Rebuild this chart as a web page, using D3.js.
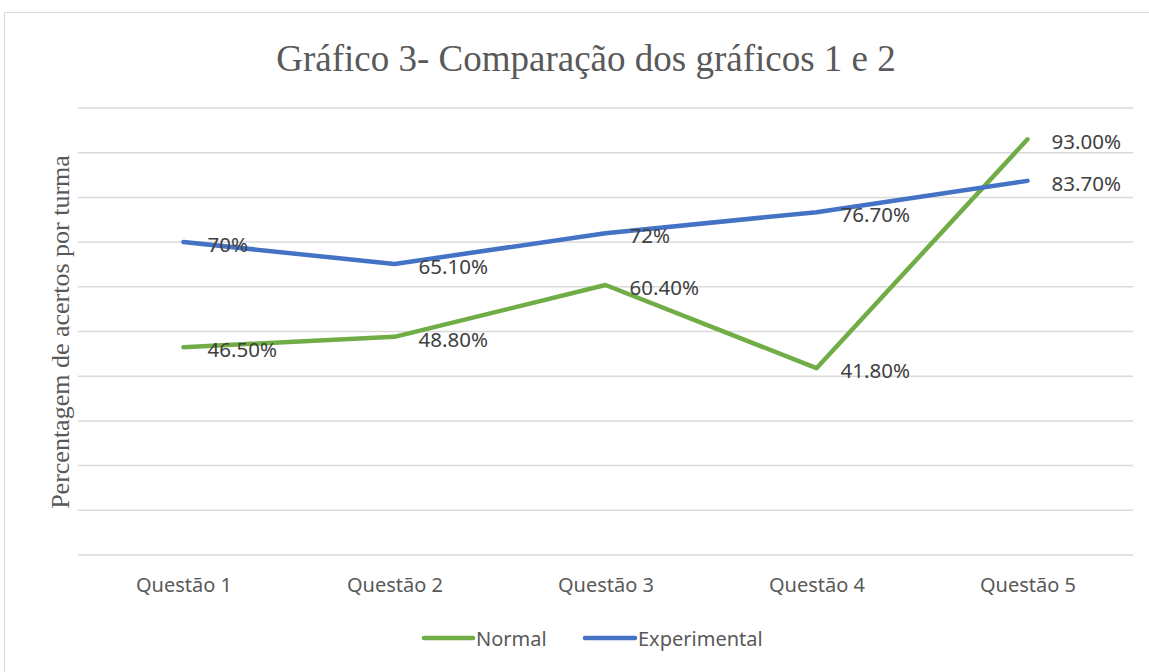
<!DOCTYPE html>
<html><head><meta charset="utf-8">
<script src="https://cdn.jsdelivr.net/npm/d3@7"></script>
<style>html,body{margin:0;padding:0;background:#fff;}</style>
</head><body>
<svg id="chart" width="1149" height="672"></svg>
<script>
const categories = ["Questão 1","Questão 2","Questão 3","Questão 4","Questão 5"];
const normal = [46.5, 48.8, 60.4, 41.8, 93.0];
const experimental = [70, 65.1, 72, 76.7, 83.7];
const normalLabels = ["46.50%","48.80%","60.40%","41.80%","93.00%"];
const experimentalLabels = ["70%","65.10%","72%","76.70%","83.70%"];
const yTicks = [0,10,20,30,40,50,60,70,80,90,100];
const seriesNames = ["Normal","Experimental"];
const colors = ["#70AD47","#4472C4"];

const svg = d3.select("#chart");
svg.append("rect").attr("x",4.5).attr("y",12.5).attr("width",1160).attr("height",680)
  .attr("fill","#fff").attr("stroke","#d9d9d9").attr("stroke-width",1);

const x = d3.scalePoint().domain(categories).range([78,1133]).padding(0.5);
const y = d3.scaleLinear().domain([0,100]).range([555,108]);

// gridlines
svg.append("g").selectAll("line").data(yTicks).join("line")
  .attr("x1",78).attr("x2",1133)
  .attr("y1",d=>y(d)).attr("y2",d=>y(d))
  .attr("stroke","#d9d9d9").attr("stroke-width",1.5);

// x axis labels
const xAxis = d3.axisBottom(x).tickSize(0).tickPadding(0);
const gx = svg.append("g").attr("transform","translate(0,578)").call(xAxis);
gx.select(".domain").remove();
gx.selectAll("text").attr("font-family","'Noto Sans', sans-serif").attr("font-size","20px")
  .attr("fill","#595959").attr("dy","0.71em").attr("y",0);

// title
svg.append("text").attr("x",586).attr("y",71).attr("text-anchor","middle")
  .attr("font-family","'Liberation Serif', 'Times New Roman', serif").attr("font-size","37px")
  .attr("fill","#595959").text("Gráfico 3- Comparação dos gráficos 1 e 2");

// y title
svg.append("text").attr("transform","translate(69,332) rotate(-90)").attr("text-anchor","middle")
  .attr("font-family","'Liberation Serif', 'Times New Roman', serif").attr("font-size","26px")
  .attr("fill","#595959").text("Percentagem de acertos por turma");

const line = d3.line().x((d,i)=>x(categories[i])).y(d=>y(d));
const series = [normal, experimental];
const labels = [normalLabels, experimentalLabels];
series.forEach((s,k)=>{
  svg.append("path").datum(s).attr("d",line).attr("fill","none")
    .attr("stroke",colors[k]).attr("stroke-width",4.5)
    .attr("stroke-linecap","round").attr("stroke-linejoin","round");
});
series.forEach((s,k)=>{
  svg.append("g").selectAll("text").data(s).join("text")
    .attr("x",(d,i)=>x(categories[i])+24).attr("y",d=>y(d)+2)
    .attr("dominant-baseline","central")
    .attr("font-family","'Noto Sans', sans-serif").attr("font-size","20.5px")
    .attr("fill","#404040").text((d,i)=>labels[k][i]);
});

// legend
const legendItems = [{x:422,tx:476},{x:583,tx:638}];
seriesNames.forEach((n,k)=>{
  const li = legendItems[k];
  svg.append("line").attr("x1",li.x+2).attr("x2",li.tx-3).attr("y1",638).attr("y2",638)
    .attr("stroke",colors[k]).attr("stroke-width",4.5).attr("stroke-linecap","round");
  svg.append("text").attr("x",li.tx).attr("y",638).attr("dominant-baseline","central")
    .attr("font-family","'Noto Sans', sans-serif").attr("font-size","20px")
    .attr("fill","#595959").text(n);
});
</script>
</body></html>
